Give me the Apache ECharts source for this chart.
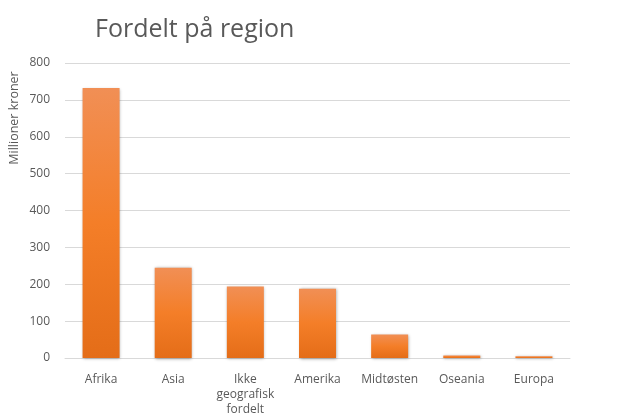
<!DOCTYPE html>
<html>
<head>
<meta charset="utf-8">
<script src="https://cdn.jsdelivr.net/npm/echarts@6/dist/echarts.min.js"></script>
<style>html,body{margin:0;padding:0;background:#fff}#c{width:634px;height:420px}</style>
</head>
<body>
<div id="c"></div>
<script>
const categories = ['Afrika', 'Asia', 'Ikke\ngeografisk\nfordelt', 'Amerika', 'Midtøsten', 'Oseania', 'Europa'];
const values = [732, 245, 194, 188, 64, 7, 5];
const yTicks = [0, 100, 200, 300, 400, 500, 600, 700, 800];
const titleText = 'Fordelt på region';
const yAxisTitle = 'Millioner kroner';

const chart = echarts.init(document.getElementById('c'));
const font = '"Open Sans", "Liberation Sans", sans-serif';
chart.setOption({
  animation: false,
  title: {
    text: titleText,
    left: 90, top: 12,
    textStyle: { fontFamily: font, fontSize: 25, fontWeight: 'normal', color: '#595959' }
  },
  grid: { left: 65, right: 64, top: 63, bottom: 62 },
  xAxis: {
    type: 'category',
    data: categories,
    axisLine: { show: true, lineStyle: { color: '#d9d9d9' } },
    axisTick: { show: false },
    axisLabel: { interval: 0, color: '#595959', fontFamily: font, fontSize: 12, lineHeight: 15, margin: 14 }
  },
  yAxis: {
    type: 'value',
    min: yTicks[0], max: yTicks[yTicks.length - 1], interval: 100,
    axisLine: { show: false },
    axisTick: { show: false },
    splitLine: { lineStyle: { color: '#d9d9d9' } },
    axisLabel: { color: '#595959', fontFamily: font, fontSize: 12, margin: 15 }
  },
  graphic: [{
    type: 'text',
    x: 14, y: 118,
    rotation: Math.PI / 2,
    style: { text: yAxisTitle, fill: '#595959', font: '12.5px ' + font, align: 'center', verticalAlign: 'middle' }
  }],
  series: [{
    type: 'bar',
    data: values,
    barWidth: 37,
    itemStyle: {
      color: new echarts.graphic.LinearGradient(0, 0, 0, 1, [
        { offset: 0, color: '#f18f55' },
        { offset: 0.5, color: '#f47e28' },
        { offset: 1, color: '#e46d18' }
      ]),
      shadowBlur: 3,
      shadowColor: 'rgba(0,0,0,0.35)',
      shadowOffsetX: 0.5,
      shadowOffsetY: 0.5
    }
  }]
});
</script>
</body>
</html>
